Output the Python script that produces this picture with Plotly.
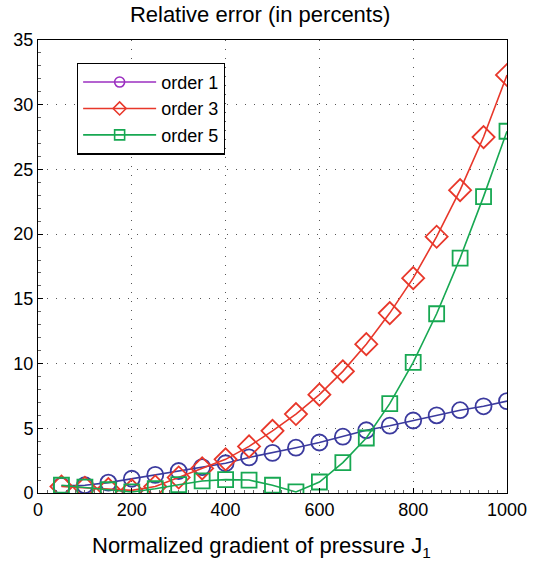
import plotly.graph_objects as go

# Normalized gradient of pressure J1
j1 = [50, 100, 150, 200, 250, 300, 350, 400, 450, 500,
      550, 600, 650, 700, 750, 800, 850, 900, 950, 1000]

# Relative error (%) for each approximation order
order1 = [0.55, 0.6, 0.8, 1.1, 1.4, 1.7, 2.0, 2.3, 2.75, 3.1,
          3.5, 3.9, 4.35, 4.85, 5.2, 5.6, 6.0, 6.4, 6.7, 7.1]
order3 = [0.5, 0.4, 0.3, 0.2, 0.5, 1.2, 1.9, 2.6, 3.6, 4.8,
          6.1, 7.6, 9.4, 11.5, 13.9, 16.6, 19.8, 23.4, 27.5, 32.3]
order5 = [0.6, 0.45, 0.25, 0.08, 0.33, 0.64, 0.93, 1.03, 1.0, 0.6,
          0.08, 0.85, 2.35, 4.25, 6.9, 10.1, 13.85, 18.15, 22.9, 27.95]

names = ["order 1", "order 3", "order 5"]
xticks = [0, 200, 400, 600, 800, 1000]
yticks = [0, 5, 10, 15, 20, 25, 30, 35]

BLUE = "#3b3a9e"
PURPLE = "#9b2fc0"
RED = "#e8372a"
GREEN = "#17a852"
FONT = "Liberation Sans, Arial, sans-serif"

fig = go.Figure()

# data curves
fig.add_trace(go.Scatter(
    x=j1, y=order1, mode="lines+markers", showlegend=False,
    line=dict(color=BLUE, width=1.6),
    marker=dict(symbol="circle-open", size=16, color=BLUE, line=dict(width=1.8)),
))
fig.add_trace(go.Scatter(
    x=j1, y=order3, mode="lines+markers", showlegend=False,
    line=dict(color=RED, width=1.6),
    marker=dict(symbol="diamond-open", size=17, color=RED, line=dict(width=1.8)),
))
fig.add_trace(go.Scatter(
    x=j1, y=order5, mode="lines+markers", showlegend=False,
    line=dict(color=GREEN, width=1.6),
    marker=dict(symbol="square-open", size=15, color=GREEN, line=dict(width=1.8)),
))

# legend entries with smaller symbols
for name, col, sym in zip(names, [PURPLE, RED, GREEN],
                          ["circle-open", "diamond-open", "square-open"]):
    fig.add_trace(go.Scatter(
        x=[None], y=[None], mode="lines+markers", name=name,
        line=dict(color=col, width=1.6),
        marker=dict(symbol=sym, size=10, color=col, line=dict(width=1.6)),
    ))

axis_common = dict(
    showline=True, mirror=True, linecolor="black", linewidth=1,
    ticks="inside", ticklen=5, tickcolor="black",
    showgrid=True, gridcolor="#555555", griddash="1px,8px", gridwidth=1.2,
    zeroline=False, automargin=False,
    tickfont=dict(family=FONT, size=18, color="black"),
)

fig.update_xaxes(
    range=[0, 1000], tickvals=xticks, ticktext=[str(v) for v in xticks],
    minor=dict(ticks="inside", ticklen=3, dtick=20, tickcolor="#666666", showgrid=False),
    **axis_common,
)
fig.update_yaxes(
    range=[0, 35], tickvals=yticks, ticktext=[str(v) for v in yticks],
    minor=dict(ticks="inside", ticklen=3, dtick=1, tickcolor="#666666", showgrid=False),
    **axis_common,
)

# x-axis title
fig.add_annotation(
    text="Normalized gradient of pressure J<sub>1</sub>",
    xref="paper", yref="paper", x=0.4776, y=-0.12,
    xanchor="center", yanchor="middle", showarrow=False,
    font=dict(family=FONT, size=22, color="black"),
)

fig.update_layout(
    width=543, height=563,
    margin=dict(l=38, r=36, t=40, b=70),
    paper_bgcolor="white", plot_bgcolor="white",
    title=dict(text="Relative error (in percents)", xref="container", x=0.479,
               xanchor="center", y=0.975, yanchor="middle",
               font=dict(family=FONT, size=22, color="black")),
    legend=dict(
        x=0.083, y=0.95, xanchor="left", yanchor="top",
        bordercolor="black", borderwidth=1.2, bgcolor="white",
        font=dict(family=FONT, size=18, color="black"),
        itemwidth=73, tracegroupgap=0,
    ),
    showlegend=True,
)

fig.write_html("out.html")
